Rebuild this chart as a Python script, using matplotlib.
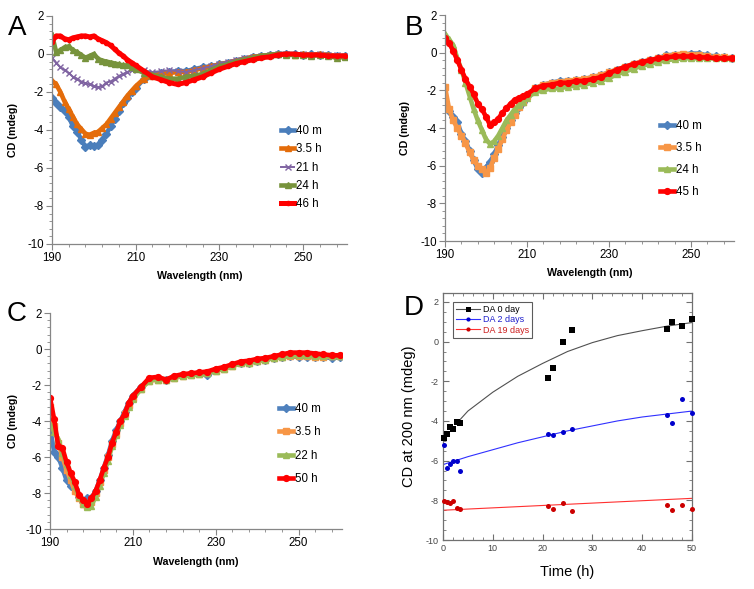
import matplotlib
matplotlib.use("Agg")
import matplotlib.pyplot as plt
from matplotlib.ticker import MultipleLocator
from matplotlib.lines import Line2D

plt.rcParams['font.family'] = ['Liberation Sans', 'DejaVu Sans']
plt.rcParams['axes.unicode_minus'] = False

# ---------------- data ----------------
wl = list(range(190, 211)) + list(range(212, 261, 2))

a_labels = ['40 m', '3.5 h', '21 h', '24 h', '46 h']
a_40m = [-2.3, -2.6, -2.8, -3.0, -3.3, -3.8, -4.1, -4.5, -4.9, -4.8, -4.85, -4.8, -4.5, -4.2, -3.8, -3.4, -3.0, -2.6, -2.3, -2.0, -1.8,
         -1.3, -1.1, -1.0, -0.95, -0.9, -0.9, -0.8, -0.7, -0.65, -0.55, -0.45, -0.35, -0.25, -0.15, -0.1, -0.05, 0.0, 0.0, 0.0, -0.05, 0.0, -0.05, -0.05, -0.1, -0.1]
a_3h = [-1.4, -1.6, -2.0, -2.5, -2.9, -3.3, -3.7, -3.95, -4.2, -4.25, -4.15, -4.1, -3.9, -3.7, -3.4, -3.1, -2.8, -2.5, -2.2, -1.95, -1.7,
        -1.3, -1.15, -1.05, -1.0, -0.95, -0.95, -0.85, -0.75, -0.65, -0.55, -0.45, -0.35, -0.25, -0.15, -0.1, -0.05, 0.0, 0.0, -0.05, 0.0, -0.05, 0.0, -0.05, -0.1, -0.1]
a_21h = [-0.2, -0.45, -0.7, -0.85, -1.0, -1.2, -1.3, -1.45, -1.55, -1.6, -1.7, -1.75, -1.7, -1.5, -1.45, -1.3, -1.15, -1.05, -0.95, -0.85, -0.8,
         -0.85, -0.95, -0.9, -0.85, -0.9, -0.95, -0.85, -0.75, -0.65, -0.5, -0.4, -0.3, -0.2, -0.15, -0.1, -0.05, 0.0, 0.0, -0.05, 0.0, -0.05, 0.0, -0.05, -0.05, -0.1]
a_24h = [1.0, 0.1, 0.2, 0.35, 0.4, 0.2, 0.1, -0.05, -0.2, -0.1, 0.0, -0.25, -0.35, -0.4, -0.45, -0.5, -0.55, -0.6, -0.6, -0.7, -0.8,
         -1.0, -1.1, -1.2, -1.3, -1.3, -1.2, -1.15, -1.05, -0.85, -0.65, -0.55, -0.4, -0.3, -0.2, -0.1, -0.05, 0.0, -0.05, -0.05, -0.05, -0.1, -0.05, -0.1, -0.2, -0.15]
a_46h = [0.65, 0.95, 0.95, 0.8, 0.75, 0.85, 0.9, 0.95, 0.95, 0.9, 0.95, 0.8, 0.7, 0.6, 0.45, 0.25, 0.05, -0.1, -0.3, -0.45, -0.6,
         -0.9, -1.2, -1.35, -1.5, -1.6, -1.5, -1.35, -1.2, -1.0, -0.8, -0.65, -0.5, -0.4, -0.3, -0.2, -0.15, -0.05, 0.0, 0.0, -0.05, -0.05, -0.05, -0.1, -0.1, -0.1]

b_labels = ['40 m', '3.5 h', '24 h', '45 h']
b_40m = [-2.9, -3.1, -3.4, -3.7, -4.3, -4.7, -5.2, -5.7, -6.2, -6.4, -6.1, -5.8, -5.4, -4.9, -4.5, -4.0, -3.6, -3.2, -2.9, -2.6, -2.3,
         -1.9, -1.7, -1.6, -1.5, -1.5, -1.45, -1.4, -1.3, -1.2, -1.05, -0.9, -0.75, -0.6, -0.5, -0.4, -0.3, -0.15, -0.1, -0.1, -0.05, -0.05, -0.15, -0.2, -0.25, -0.3]
b_3h = [-1.8, -3.0, -3.6, -4.0, -4.4, -4.8, -5.3, -5.7, -6.0, -6.2, -6.4, -6.1, -5.6, -5.1, -4.6, -4.1, -3.7, -3.3, -2.9, -2.6, -2.3,
        -1.9, -1.7, -1.6, -1.55, -1.5, -1.45, -1.4, -1.3, -1.2, -1.05, -0.9, -0.75, -0.6, -0.5, -0.4, -0.3, -0.2, -0.1, -0.05, -0.1, -0.1, -0.2, -0.25, -0.25, -0.3]
b_24h = [1.0, 0.7, 0.4, -0.3, -0.9, -1.6, -2.3, -3.0, -3.6, -4.1, -4.6, -4.85, -4.7, -4.4, -4.0, -3.6, -3.3, -3.0, -2.8, -2.6, -2.4,
         -2.1, -2.0, -1.9, -1.9, -1.8, -1.75, -1.7, -1.6, -1.5, -1.35, -1.15, -1.0, -0.85, -0.7, -0.6, -0.5, -0.4, -0.35, -0.3, -0.3, -0.3, -0.3, -0.3, -0.3, -0.3]
b_45h = [0.8, 0.5, 0.1, -0.4, -0.9, -1.4, -1.8, -2.2, -2.7, -3.0, -3.4, -3.85, -3.7, -3.5, -3.2, -2.95, -2.7, -2.5, -2.4, -2.3, -2.2,
         -1.9, -1.75, -1.7, -1.6, -1.6, -1.5, -1.5, -1.4, -1.3, -1.1, -0.9, -0.75, -0.6, -0.5, -0.4, -0.3, -0.25, -0.2, -0.2, -0.2, -0.25, -0.25, -0.3, -0.3, -0.3]

c_labels = ['40 m', '3.5 h', '22 h', '50 h']
c_40m = [-4.4, -5.7, -6.0, -6.6, -7.3, -7.6, -7.8, -8.2, -8.5, -8.3, -8.3, -7.9, -7.3, -6.6, -5.9, -5.1, -4.5, -4.0, -3.5, -3.0, -2.6,
         -2.1, -1.7, -1.65, -1.7, -1.55, -1.45, -1.4, -1.35, -1.45, -1.15, -1.05, -0.9, -0.8, -0.75, -0.65, -0.6, -0.5, -0.45, -0.4, -0.45, -0.45, -0.45, -0.45, -0.5, -0.45]
c_3h = [-3.2, -4.3, -5.2, -6.0, -6.7, -7.3, -7.9, -8.3, -8.6, -8.7, -8.5, -8.0, -7.4, -6.7, -6.0, -5.3, -4.7, -4.1, -3.6, -3.1, -2.7,
        -2.2, -1.75, -1.7, -1.7, -1.6, -1.5, -1.45, -1.4, -1.35, -1.2, -1.1, -0.95, -0.8, -0.75, -0.65, -0.6, -0.5, -0.45, -0.4, -0.4, -0.4, -0.45, -0.45, -0.4, -0.4]
c_22h = [-4.2, -4.6, -5.0, -5.8, -6.4, -7.0, -7.6, -8.2, -8.6, -8.8, -8.7, -8.2, -7.6, -6.9, -6.2, -5.4, -4.8, -4.2, -3.7, -3.2, -2.8,
         -2.2, -1.75, -1.7, -1.7, -1.6, -1.5, -1.45, -1.4, -1.35, -1.2, -1.1, -0.95, -0.8, -0.75, -0.65, -0.6, -0.5, -0.45, -0.35, -0.35, -0.35, -0.4, -0.4, -0.4, -0.4]
c_50h = [-2.7, -3.9, -5.4, -5.5, -6.3, -6.9, -7.4, -8.1, -8.4, -8.6, -8.3, -7.9, -7.3, -6.6, -6.0, -5.2, -4.6, -4.0, -3.6, -3.0, -2.6,
         -2.1, -1.6, -1.55, -1.7, -1.5, -1.4, -1.35, -1.3, -1.25, -1.1, -1.0, -0.85, -0.7, -0.65, -0.55, -0.5, -0.4, -0.3, -0.2, -0.2, -0.2, -0.25, -0.3, -0.35, -0.35]

# panel D
d_labels = ['DA 0 day', 'DA 2 days', 'DA 19 days']
d0_t = [0.2, 0.87, 1.5, 2.07, 2.75, 3.5, 21.0, 22.1, 24.0, 26.0, 44.9, 46.0, 48.0, 50.0]
d0_v = [-4.84, -4.66, -4.29, -4.39, -4.05, -4.1, -1.83, -1.35, 0.0, 0.57, 0.65, 0.97, 0.79, 1.14]
d2_t = [0.2, 0.87, 1.5, 2.07, 2.75, 3.5, 21.0, 22.1, 24.0, 26.0, 44.9, 46.0, 48.0, 50.0]
d2_v = [-5.2, -6.35, -6.15, -6.0, -6.0, -6.5, -4.65, -4.7, -4.56, -4.42, -3.7, -4.12, -2.87, -3.6]
d19_t = [0.2, 0.87, 1.5, 2.07, 2.75, 3.5, 21.0, 22.1, 24.0, 26.0, 44.9, 46.0, 48.0, 50.0]
d19_v = [-8.05, -8.1, -8.15, -8.05, -8.4, -8.45, -8.3, -8.45, -8.15, -8.55, -8.22, -8.49, -8.26, -8.44]
fit0_t = [3, 5, 10, 15, 20, 25, 30, 35, 40, 45, 50]
fit0_v = [-4.05, -3.5, -2.55, -1.75, -1.1, -0.5, -0.05, 0.3, 0.55, 0.78, 0.96]
fit2_t = [0, 5, 10, 15, 20, 25, 30, 35, 40, 45, 50]
fit2_v = [-6.2, -5.8, -5.45, -5.1, -4.8, -4.5, -4.25, -4.0, -3.8, -3.65, -3.5]
fit19_t = [0, 50]
fit19_v = [-8.5, -7.9]

# ---------------- figure ----------------
W, H = 754, 589
fig = plt.figure(figsize=(W / 100, H / 100), dpi=100)


def px_axes(l, t, r, b):
    return fig.add_axes([l / W, 1 - b / H, (r - l) / W, (b - t) / H])


AX_GRAY = '#868686'


def style_cd(ax, ylab_x, xlab_y):
    ax.set_xlim(190, 260.5)
    ax.set_ylim(-10, 2)
    for s in ['top', 'right']:
        ax.spines[s].set_visible(False)
    for s in ['left', 'bottom']:
        ax.spines[s].set_color(AX_GRAY)
        ax.spines[s].set_linewidth(0.9)
    ax.xaxis.set_major_locator(MultipleLocator(20, offset=10))
    ax.xaxis.set_minor_locator(MultipleLocator(4, offset=2))
    ax.yaxis.set_major_locator(MultipleLocator(2))
    ax.yaxis.set_minor_locator(MultipleLocator(0.4))
    ax.tick_params(which='both', direction='out', color=AX_GRAY, labelsize=8.3, pad=2)
    ax.tick_params(which='major', length=4, width=0.8)
    ax.tick_params(which='minor', length=2.5, width=0.6)
    ax.set_xlabel('Wavelength (nm)', fontsize=7.7, fontweight='bold')
    ax.set_ylabel('CD (mdeg)', fontsize=7.7, fontweight='bold')
    ax.yaxis.set_label_coords(ylab_x, 0.5)
    ax.xaxis.set_label_coords(0.5, xlab_y)


def cd_legend(ax, x0, yc, spacing):
    ax.legend(loc='center left', bbox_to_anchor=(x0, yc), frameon=False, fontsize=8.3,
              handlelength=1.2, handletextpad=0.15, labelspacing=spacing,
              borderpad=0, borderaxespad=0, numpoints=1)


# Panel A
axA = px_axes(52, 16, 347, 244)
a_series = [a_40m, a_3h, a_21h, a_24h, a_46h]
a_colors = ['#4A7EBB', '#E46C0A', '#8064A2', '#77933C', '#FF0000']
a_markers = ['D', '^', 'x', '^', 'o']
a_ms = [4, 4.5, 4, 4.5, 3]
a_lw = [3.3, 3.3, 1.4, 3.3, 3.6]
for vals, lab, c, m, ms, lw in zip(a_series, a_labels, a_colors, a_markers, a_ms, a_lw):
    axA.plot(wl, vals, color=c, marker=m, markersize=ms, lw=lw, label=lab,
             markeredgewidth=1.0)
style_cd(axA, -0.115, -0.118)
cd_legend(axA, 0.775, 0.335, 0.55)

# Panel B
axB = px_axes(445, 15, 734, 241)
b_series = [b_40m, b_3h, b_24h, b_45h]
bc_colors = ['#4F81BD', '#F79646', '#9BBB59', '#FF0000']
bc_markers = ['D', 's', '^', 'o']
for vals, lab, c, m in zip(b_series, b_labels, bc_colors, bc_markers):
    axB.plot(wl, vals, color=c, marker=m, markersize=4.2, lw=3.3, label=lab)
style_cd(axB, -0.12, -0.12)
cd_legend(axB, 0.745, 0.363, 0.85)

# Panel C
axC = px_axes(50, 313, 342, 529)
c_series = [c_40m, c_3h, c_22h, c_50h]
for vals, lab, c, m in zip(c_series, c_labels, bc_colors, bc_markers):
    axC.plot(wl, vals, color=c, marker=m, markersize=4.2, lw=3.3, label=lab)
style_cd(axC, -0.11, -0.128)
cd_legend(axC, 0.785, 0.394, 1.0)

# Panel D
axD = px_axes(443, 293, 692, 540)
pt_colors = ['#000000', '#0000CC', '#CC0000']
fit_colors = ['#505050', '#3030FF', '#FF3030']
txt_colors = ['#000000', '#2020CC', '#CC2020']
d_markers = ['s', 'o', 'o']
d_ms = [4.2, 3.6, 3.6]
for (tt, vv, ft, fv), pc, fc, m, ms in zip(
        [(d0_t, d0_v, fit0_t, fit0_v), (d2_t, d2_v, fit2_t, fit2_v), (d19_t, d19_v, fit19_t, fit19_v)],
        pt_colors, fit_colors, d_markers, d_ms):
    axD.plot(ft, fv, color=fc, lw=0.8)
    axD.plot(tt, vv, ls='none', marker=m, markersize=ms, color=pc, markeredgewidth=0,
             clip_on=False, zorder=3)
axD.set_xlim(0, 50)
axD.set_ylim(-10, 2.45)
axD.xaxis.set_major_locator(MultipleLocator(10))
axD.xaxis.set_minor_locator(MultipleLocator(2))
axD.yaxis.set_major_locator(MultipleLocator(2))
axD.yaxis.set_minor_locator(MultipleLocator(0.5))
for s in axD.spines.values():
    s.set_color('#707070')
    s.set_linewidth(0.9)
axD.tick_params(which='both', direction='in', top=True, right=True, color='#707070',
                labelsize=6.5, labelcolor='#444444', pad=3)
axD.tick_params(which='major', length=4, width=0.8)
axD.tick_params(which='minor', length=2, width=0.6)
axD.set_xlabel('Time (h)', fontsize=10.5)
axD.set_ylabel('CD at 200 nm (mdeg)', fontsize=10.5)
axD.yaxis.set_label_coords(-0.108, 0.5)
axD.xaxis.set_label_coords(0.5, -0.101)
handles = [Line2D([], [], color=fc, lw=0.8, marker=m, markersize=ms - 0.6, markerfacecolor=pc,
                  markeredgewidth=0)
           for fc, pc, m, ms in zip(fit_colors, pt_colors, d_markers, d_ms)]
legD = axD.legend(handles, d_labels, loc='upper left', bbox_to_anchor=(0.04, 0.965),
                  fontsize=6.5, frameon=True, fancybox=False, edgecolor='#333333',
                  handlelength=2.6, handletextpad=0.4, labelspacing=0.15, borderpad=0.35,
                  borderaxespad=0, numpoints=1)
legD.get_frame().set_linewidth(0.8)
for txt, c in zip(legD.get_texts(), txt_colors):
    txt.set_color(c)

# panel letters
for lab, x, y in [('A', 8, 28), ('B', 405, 28), ('C', 7, 314), ('D', 404, 308)]:
    fig.text(x / W, 1 - y / H, lab, fontsize=20, ha='left', va='center')

fig.savefig('out.png', dpi=100)
